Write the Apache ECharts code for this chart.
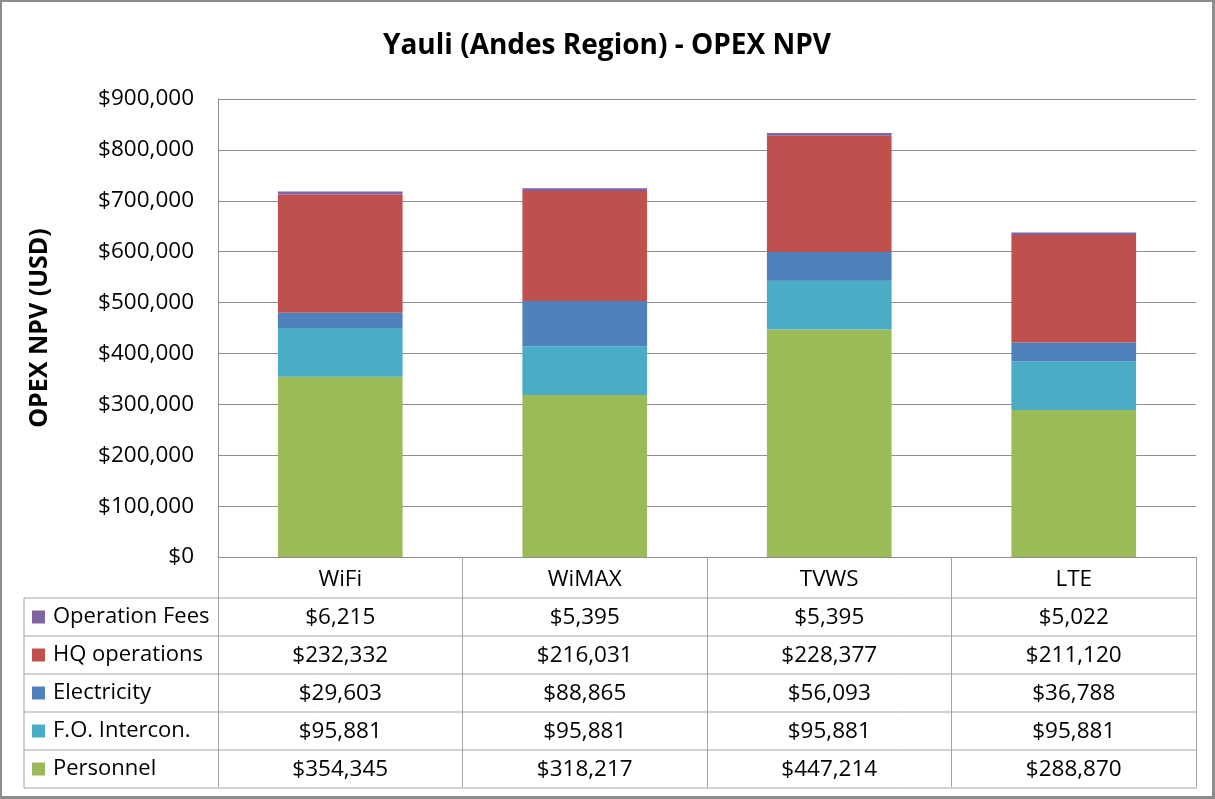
<!DOCTYPE html>
<html>
<head>
<meta charset="utf-8">
<title>Yauli (Andes Region) - OPEX NPV</title>
<script src="https://cdn.jsdelivr.net/npm/echarts@6/dist/echarts.min.js"></script>
<style>
  html, body { margin: 0; padding: 0; background: #fff; }
  #chart { width: 1215px; height: 799px; box-sizing: border-box; border: 2px solid #8c8c8c; border-right-width: 3px; border-bottom-width: 3px; }
</style>
</head>
<body>
<div id="chart"></div>
<script>
// 技术方案
const categories = ['WiFi', 'WiMAX', 'TVWS', 'LTE']

// 各项成本 (USD)
const personnel = [354345, 318217, 447214, 288870]
const foIntercon = [95881, 95881, 95881, 95881]
const electricity = [29603, 88865, 56093, 36788]
const hqOperations = [232332, 216031, 228377, 211120]
const operationFees = [6215, 5395, 5395, 5022]

// y 轴刻度
const yMin = 0
const yMax = 900000
const yStep = 100000

const seriesDefs = [
  { name: 'Personnel', data: personnel, color: '#9BBB59' },
  { name: 'F.O. Intercon.', data: foIntercon, color: '#4BACC6' },
  { name: 'Electricity', data: electricity, color: '#4F81BD' },
  { name: 'HQ operations', data: hqOperations, color: '#C0504D' },
  { name: 'Operation Fees', data: operationFees, color: '#8064A2' }
]
// 数据表从上到下的顺序
const tableOrder = [...seriesDefs].reverse()

const font = '"Open Sans", "DejaVu Sans", sans-serif'
const lineColor = '#8e8e8e'
const tableLineColor = '#a3a3a3'

// 布局
const W = 1211
const plotLeft = 216
const plotRight = 1195
const plotTop = 97
const plotBottom = 556
const headH = 40
const rowH = 38
const tableLeft = 22
const tableTop = plotBottom + headH

const money = (v) => '$' + v.toLocaleString('en-US')

const chart = echarts.init(document.getElementById('chart'))

// 表格横线
const tableLines = []
for (let i = 0; i <= tableOrder.length; i++) {
  const y = tableTop + i * rowH
  tableLines.push({
    type: 'line',
    shape: { x1: tableLeft, y1: y, x2: plotRight, y2: y },
    style: { stroke: tableLineColor, lineWidth: 1 },
    z: 10
  })
}
tableLines.push({
  type: 'line',
  shape: { x1: tableLeft, y1: tableTop, x2: tableLeft, y2: tableTop + tableOrder.length * rowH },
  style: { stroke: tableLineColor, lineWidth: 1 },
  z: 10
})

const option = {
  animation: false,
  textStyle: { fontFamily: font },
  title: {
    text: 'Yauli (Andes Region) - OPEX NPV',
    left: 'center',
    top: 25,
    textStyle: { fontFamily: font, fontSize: 28, fontWeight: 'bold', color: '#000' }
  },
  legend: {
    orient: 'vertical',
    left: 30,
    top: tableTop,
    height: 260,
    padding: 0,
    itemGap: 0,
    itemWidth: 13,
    itemHeight: 13,
    icon: 'rect',
    selectedMode: false,
    data: tableOrder.map(s => s.name),
    textStyle: { fontFamily: font, fontSize: 22, color: '#000', lineHeight: rowH, padding: [0, 0, 0, 3] }
  },
  grid: {
    left: plotLeft,
    right: W - plotRight,
    top: plotTop,
    bottom: 795 - plotBottom,
    containLabel: false
  },
  xAxis: {
    type: 'category',
    data: categories,
    axisLine: { show: true, lineStyle: { color: lineColor, width: 1 } },
    axisTick: { show: true, length: headH + rowH * tableOrder.length, lineStyle: { color: tableLineColor } },
    axisLabel: {
      margin: 4,
      fontFamily: font,
      fontSize: 22.5,
      color: '#000',
      lineHeight: rowH,
      formatter: (value) => {
        const i = categories.indexOf(value)
        return [value, ...tableOrder.map(s => money(s.data[i]))].join('\n')
      }
    }
  },
  yAxis: {
    type: 'value',
    min: yMin,
    max: yMax,
    interval: yStep,
    name: 'OPEX NPV (USD)',
    nameLocation: 'middle',
    nameRotate: 90,
    nameGap: 166,
    nameTextStyle: { fontFamily: font, fontSize: 25, fontWeight: 'bold', color: '#000' },
    axisLine: { show: true, lineStyle: { color: lineColor } },
    axisTick: { show: false },
    axisLabel: { margin: 24, fontFamily: font, fontSize: 22.5, color: '#000', formatter: money },
    splitLine: { show: true, lineStyle: { color: lineColor, width: 1 } }
  },
  series: seriesDefs.map(s => ({
    name: s.name,
    type: 'bar',
    stack: 'opex',
    barWidth: '51%',
    data: s.data,
    itemStyle: { color: s.color }
  })),
  graphic: tableLines
}

chart.setOption(option)
</script>
</body>
</html>
